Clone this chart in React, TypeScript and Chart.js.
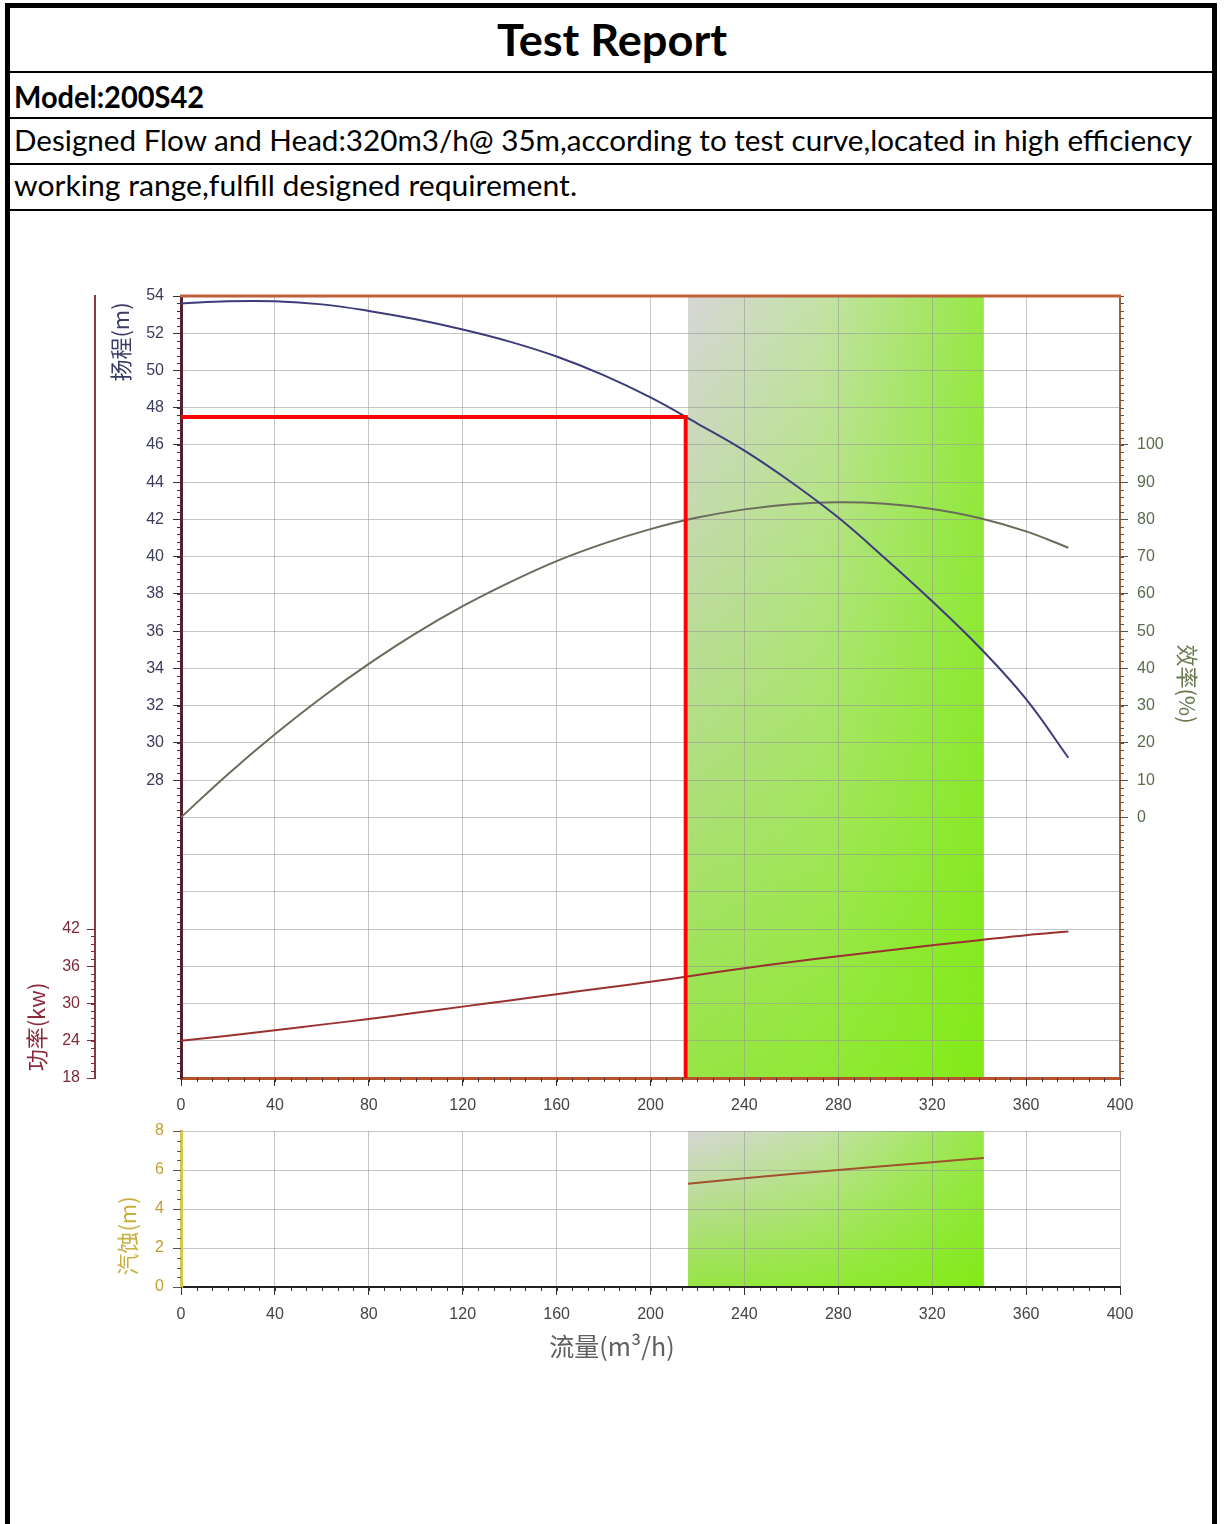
import React, { useEffect, useRef } from 'react';
import { Chart, registerables } from 'chart.js';

Chart.register(...registerables);

// ---- data ----
const flow = [0, 20, 40, 60, 80, 100, 120, 140, 160, 180, 200, 220, 240, 260, 280, 300, 320, 340, 360, 378];
const head = [53.6, 53.72, 53.72, 53.55, 53.2, 52.75, 52.2, 51.55, 50.75, 49.75, 48.55, 47.15, 45.7, 44.0, 42.1, 39.9, 37.6, 35.15, 32.35, 29.2];
const efficiency = [0, 11.6, 22.3, 32.2, 41.2, 49.4, 56.7, 63.1, 68.8, 73.5, 77.4, 80.5, 82.7, 84.1, 84.6, 84.2, 82.8, 80.4, 76.8, 72.4];
const power = [24.0, 24.8, 25.7, 26.6, 27.5, 28.5, 29.5, 30.5, 31.5, 32.5, 33.5, 34.6, 35.7, 36.7, 37.6, 38.5, 39.4, 40.2, 41.0, 41.6];
const npshFlow = [216, 240, 280, 320, 342];
const npsh = [5.3, 5.58, 6.0, 6.4, 6.62];

const designFlow = 215;
const designHead = 47.5;
const bandStart = 216;
const bandEnd = 342;

const flowRange = [0, 400];
const flowStep = 40;
const headRange = [12, 54];
const headStep = 2;
const headLabelMin = 28;
const effRange = [-70, 140];
const effStep = 10;
const effLabelRange = [0, 100];
const powerRange = [18, 144];
const powerStep = 6;
const powerLabelMax = 42;
const npshRange = [0, 8];
const npshStep = 2;

const TICK_FONT = { family: '"Liberation Sans", Arial, sans-serif', size: 16 };
const CJK = '"Noto Sans CJK SC", "Noto Sans", sans-serif';

function bandPlugin(xId: string) {
  return {
    id: 'band',
    beforeDraw(chart: any) {
      const { ctx, chartArea } = chart;
      const xs = chart.scales[xId];
      const x0 = xs.getPixelForValue(bandStart);
      const x1 = xs.getPixelForValue(bandEnd);
      const top = chartArea.top;
      const bottom = chartArea.bottom;
      ctx.save();
      const g = ctx.createLinearGradient(x0, 0, x1, 0);
      g.addColorStop(0, '#d6d6d6');
      g.addColorStop(0.45, '#c4e2a6');
      g.addColorStop(1, '#96e846');
      ctx.fillStyle = g;
      ctx.fillRect(x0, top, x1 - x0, bottom - top);
      const g2 = ctx.createLinearGradient(0, top, 0, bottom);
      g2.addColorStop(0, 'rgba(120,232,0,0)');
      g2.addColorStop(1, 'rgba(120,236,0,0.68)');
      ctx.fillStyle = g2;
      ctx.fillRect(x0, top, x1 - x0, bottom - top);
      ctx.restore();
    },
  };
}

type Minor = { scale: string; from: number; to: number; step: number; len: number; color: string };
function minorPlugin(items: Minor[]) {
  return {
    id: 'minorTicks',
    afterDraw(chart: any) {
      const ctx = chart.ctx;
      for (const m of items) {
        const s = chart.scales[m.scale];
        const n = Math.round((m.to - m.from) / m.step);
        ctx.save();
        ctx.strokeStyle = m.color;
        ctx.lineWidth = 1;
        ctx.beginPath();
        for (let i = 0; i <= n; i++) {
          const p = Math.round(s.getPixelForValue(m.from + i * m.step)) + 0.5;
          if (s.isHorizontal()) {
            ctx.moveTo(p, s.top);
            ctx.lineTo(p, s.top + m.len);
          } else if (s.position === 'left') {
            ctx.moveTo(s.right, p);
            ctx.lineTo(s.right - m.len, p);
          } else {
            ctx.moveTo(s.left, p);
            ctx.lineTo(s.left + m.len, p);
          }
        }
        ctx.stroke();
        ctx.restore();
      }
    },
  };
}

type Label = { text: string; x: number; y: number; rot: number; color: string; font: string };
function labelsPlugin(items: Label[], topLine?: string) {
  return {
    id: 'customLabels',
    afterDraw(chart: any) {
      const ctx = chart.ctx;
      if (topLine) {
        const { left, right, top } = chart.chartArea;
        ctx.save();
        ctx.strokeStyle = topLine;
        ctx.lineWidth = 3;
        ctx.beginPath();
        ctx.moveTo(left - 1, top);
        ctx.lineTo(right + 1, top);
        ctx.stroke();
        ctx.restore();
      }
      for (const l of items) {
        ctx.save();
        ctx.translate(l.x, l.y);
        ctx.rotate(l.rot);
        ctx.font = l.font;
        ctx.fillStyle = l.color;
        ctx.textAlign = 'center';
        ctx.textBaseline = 'middle';
        ctx.fillText(l.text, 0, 0);
        ctx.restore();
      }
    },
  };
}

export default function App() {
  const mainRef = useRef<HTMLCanvasElement>(null);
  const npshRef = useRef<HTMLCanvasElement>(null);

  useEffect(() => {
    const charts: Chart[] = [];
    const gridGray = 'rgba(150,150,150,0.55)';

    if (mainRef.current) {
      const main = new Chart(mainRef.current, {
        type: 'line',
        data: {
          datasets: [
            {
              label: 'design',
              data: [
                { x: flowRange[0], y: designHead },
                { x: designFlow, y: designHead },
                { x: designFlow, y: headRange[0] },
              ],
              yAxisID: 'yHead',
              borderColor: '#ff0000',
              borderWidth: 4,
              pointRadius: 0,
              tension: 0,
            },
            {
              label: 'head',
              data: flow.map((x, i) => ({ x, y: head[i] })),
              yAxisID: 'yHead',
              borderColor: '#3c3c7a',
              borderWidth: 2,
              pointRadius: 0,
              tension: 0.4,
            },
            {
              label: 'eff',
              data: flow.map((x, i) => ({ x, y: efficiency[i] })),
              yAxisID: 'yEff',
              borderColor: '#6b6b5c',
              borderWidth: 2,
              pointRadius: 0,
              tension: 0.4,
            },
            {
              label: 'power',
              data: flow.map((x, i) => ({ x, y: power[i] })),
              yAxisID: 'yPower',
              borderColor: '#9a3030',
              borderWidth: 2,
              pointRadius: 0,
              tension: 0.4,
            },
          ],
        },
        options: {
          animation: false,
          responsive: false,
          events: [],
          layout: { padding: { top: 66, left: 0, right: 0, bottom: 0 } },
          plugins: { legend: { display: false }, tooltip: { enabled: false } },
          scales: {
            x: {
              type: 'linear',
              position: 'bottom',
              min: flowRange[0],
              max: flowRange[1],
              afterFit: (s: any) => { s.height = 52; },
              ticks: { stepSize: flowStep, autoSkip: false, maxRotation: 0, color: '#444', font: TICK_FONT, padding: 10 },
              grid: { color: gridGray, tickColor: '#333', tickLength: 8 },
              border: { color: '#b5532f', width: 3 },
            },
            yHead: {
              type: 'linear',
              position: 'left',
              weight: 0,
              min: headRange[0],
              max: headRange[1],
              afterFit: (s: any) => { s.width = 86; },
              ticks: {
                stepSize: headStep,
                autoSkip: false,
                color: '#3b3b5e',
                font: TICK_FONT,
                padding: 9,
                callback: (v: any) => (v >= headLabelMin ? String(v) : ''),
              },
              grid: {
                color: gridGray,
                tickLength: 8,
                tickColor: (c: any) => (c.tick && c.tick.value >= headLabelMin ? '#333' : 'rgba(0,0,0,0)'),
              },
              border: { color: '#5a1f2e', width: 3 },
            },
            yPower: {
              type: 'linear',
              position: 'left',
              weight: 1,
              min: powerRange[0],
              max: powerRange[1],
              afterFit: (s: any) => { s.width = 95; },
              ticks: {
                stepSize: powerStep,
                autoSkip: false,
                color: '#7e2a3a',
                font: TICK_FONT,
                padding: 7,
                callback: (v: any) => (v <= powerLabelMax ? String(v) : ''),
              },
              grid: {
                drawOnChartArea: false,
                tickLength: 8,
                tickColor: (c: any) => (c.tick && c.tick.value <= powerLabelMax ? '#7e2a3a' : 'rgba(0,0,0,0)'),
              },
              border: { color: '#8b3a3a', width: 2 },
            },
            yEff: {
              type: 'linear',
              position: 'right',
              min: effRange[0],
              max: effRange[1],
              afterFit: (s: any) => { s.width = 104; },
              ticks: {
                stepSize: effStep,
                autoSkip: false,
                color: '#5b6b4b',
                font: TICK_FONT,
                padding: 9,
                callback: (v: any) => (v >= effLabelRange[0] && v <= effLabelRange[1] ? String(v) : ''),
              },
              grid: {
                drawOnChartArea: false,
                tickLength: 8,
                tickColor: (c: any) =>
                  c.tick && c.tick.value >= effLabelRange[0] && c.tick.value <= effLabelRange[1] ? '#555' : 'rgba(0,0,0,0)',
              },
              border: { color: '#a0603e', width: 2 },
            },
          },
        } as any,
        plugins: [
          bandPlugin('x'),
          minorPlugin([
            { scale: 'x', from: 0, to: 400, step: 40 / 6, len: 4, color: '#333' },
            { scale: 'yHead', from: 12, to: 54, step: 0.4, len: 4, color: '#333' },
            { scale: 'yPower', from: 18, to: 42, step: 1.2, len: 4, color: '#7e2a3a' },
            { scale: 'yEff', from: -70, to: 140, step: 2, len: 4, color: '#555' },
          ]),
          labelsPlugin(
            [
              { text: '扬程(m)', x: 121, y: 112, rot: -Math.PI / 2, color: '#3b3b66', font: `22px ${CJK}` },
              { text: '功率(kw)', x: 37, y: 797, rot: -Math.PI / 2, color: '#8a2a3a', font: `22px ${CJK}` },
              { text: '效率(%)', x: 1187, y: 454, rot: Math.PI / 2, color: '#6a7a50', font: `22px ${CJK}` },
            ],
            '#c0603a'
          ),
        ],
      });
      charts.push(main);
    }

    if (npshRef.current) {
      const sub = new Chart(npshRef.current, {
        type: 'line',
        data: {
          datasets: [
            {
              label: 'npsh',
              data: npshFlow.map((x, i) => ({ x, y: npsh[i] })),
              yAxisID: 'yN',
              borderColor: '#a0522d',
              borderWidth: 2,
              pointRadius: 0,
              tension: 0.3,
            },
          ],
        },
        options: {
          animation: false,
          responsive: false,
          events: [],
          layout: { padding: { top: 21, left: 0, right: 104, bottom: 0 } },
          plugins: { legend: { display: false }, tooltip: { enabled: false } },
          scales: {
            x: {
              type: 'linear',
              position: 'bottom',
              min: flowRange[0],
              max: flowRange[1],
              afterFit: (s: any) => { s.height = 93; },
              ticks: { stepSize: flowStep, autoSkip: false, maxRotation: 0, color: '#444', font: TICK_FONT, padding: 10 },
              grid: { color: gridGray, tickColor: '#333', tickLength: 8 },
              border: { color: '#222', width: 2 },
            },
            yN: {
              type: 'linear',
              position: 'left',
              min: npshRange[0],
              max: npshRange[1],
              afterFit: (s: any) => { s.width = 181; },
              ticks: { stepSize: npshStep, autoSkip: false, color: '#c0a030', font: TICK_FONT, padding: 9 },
              grid: { color: gridGray, tickColor: '#555', tickLength: 8 },
              border: { color: '#d4c84a', width: 3 },
            },
          },
        } as any,
        plugins: [
          bandPlugin('x'),
          minorPlugin([
            { scale: 'x', from: 0, to: 400, step: 40 / 6, len: 4, color: '#333' },
            { scale: 'yN', from: 0, to: 8, step: 0.5, len: 4, color: '#555' },
          ]),
          labelsPlugin([
            { text: '汽蚀(m)', x: 128, y: 126, rot: -Math.PI / 2, color: '#c8b040', font: `22px ${CJK}` },
            { text: '流量(m³/h)', x: 612, y: 236, rot: 0, color: '#606060', font: `25px ${CJK}` },
          ]),
        ],
      });
      charts.push(sub);
    }

    return () => charts.forEach((c) => c.destroy());
  }, []);

  const textFont = 'Lato, "Open Sans", sans-serif';

  return (
    <div style={{ position: 'absolute', left: 0, top: 0, width: 1224, height: 1524, overflow: 'hidden', background: '#fff' }}>
      <div
        style={{
          position: 'absolute',
          left: 5,
          top: 3,
          width: 1202,
          height: 1600,
          border: '5px solid #000',
          borderBottom: 'none',
        }}
      />
      <svg width={1224} height={215} style={{ position: 'absolute', left: 0, top: 0 }}>
        <rect x={6} y={71} width={1210} height={2} fill="#000" />
        <rect x={6} y={117} width={1210} height={2} fill="#000" />
        <rect x={6} y={163} width={1210} height={2} fill="#000" />
        <rect x={6} y={209} width={1210} height={2} fill="#000" />
        <text x={612} y={56} textAnchor="middle" fontFamily={textFont} fontWeight="bold" fontSize={44} textLength={230} lengthAdjust="spacingAndGlyphs">
          Test Report
        </text>
        <text x={14} y={108} fontFamily={textFont} fontWeight="bold" fontSize={30} textLength={190} lengthAdjust="spacingAndGlyphs">
          Model:200S42
        </text>
        <text x={14} y={151} fontFamily={textFont} fontSize={29} textLength={1178} lengthAdjust="spacingAndGlyphs">
          Designed Flow and Head:320m3/h@ 35m,according to test curve,located in high efficiency
        </text>
        <text x={14} y={196} fontFamily={textFont} fontSize={29} textLength={563} lengthAdjust="spacingAndGlyphs">
          working range,fulfill designed requirement.
        </text>
      </svg>
      <canvas ref={mainRef} width={1224} height={900} style={{ position: 'absolute', left: 0, top: 230, display: 'block' }} />
      <canvas ref={npshRef} width={1224} height={270} style={{ position: 'absolute', left: 0, top: 1110, display: 'block' }} />
    </div>
  );
}
